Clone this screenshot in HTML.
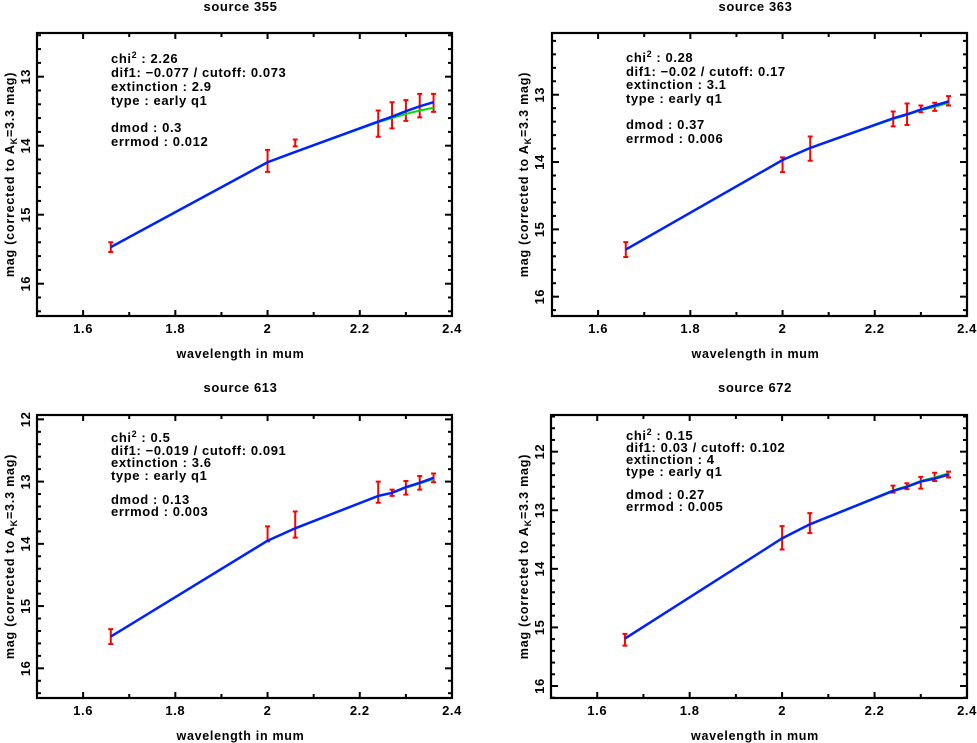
<!DOCTYPE html>
<html><head><meta charset="utf-8"><style>
html,body{margin:0;padding:0;background:#fff;}
svg{display:block;font-family:"Liberation Sans",sans-serif;font-weight:bold;}
</style></head><body>
<svg id="chart" width="977" height="743" viewBox="0 0 977 743" xmlns="http://www.w3.org/2000/svg"></svg>
<script>
const wavelengths = [1.66, 2.0, 2.06, 2.24, 2.27, 2.30, 2.33, 2.36];
const titles = ["source 355", "source 363", "source 613", "source 672"];
const obsMag355 = [15.47, 14.22, 13.96, 13.68, 13.56, 13.49, 13.42, 13.38];
const obsErr355 = [0.07, 0.16, 0.05, 0.19, 0.19, 0.15, 0.17, 0.13];
const blue355 = [15.47, 14.24, 14.09, 13.65, 13.58, 13.50, 13.43, 13.37];
const green355 = [15.47, 14.24, 14.09, 13.66, 13.60, 13.54, 13.49, 13.45];
const obsMag363 = [15.30, 14.04, 13.80, 13.36, 13.29, 13.21, 13.18, 13.09];
const obsErr363 = [0.11, 0.11, 0.18, 0.11, 0.16, 0.05, 0.06, 0.07];
const blue363 = [15.30, 13.97, 13.79, 13.35, 13.29, 13.22, 13.16, 13.10];
const green363 = [15.30, 13.97, 13.79, 13.36, 13.30, 13.23, 13.18, 13.12];
const obsMag613 = [15.49, 13.84, 13.69, 13.17, 13.18, 13.10, 13.02, 12.94];
const obsErr613 = [0.12, 0.12, 0.21, 0.17, 0.05, 0.11, 0.11, 0.07];
const blue613 = [15.49, 13.95, 13.75, 13.23, 13.18, 13.09, 13.02, 12.94];
const green613 = [15.49, 13.95, 13.75, 13.23, 13.18, 13.10, 13.03, 12.96];
const obsMag672 = [15.21, 13.47, 13.22, 12.64, 12.59, 12.53, 12.43, 12.39];
const obsErr672 = [0.10, 0.20, 0.17, 0.06, 0.05, 0.10, 0.07, 0.05];
const blue672 = [15.19, 13.48, 13.24, 12.67, 12.60, 12.51, 12.46, 12.39];
const green672 = [15.19, 13.48, 13.24, 12.66, 12.59, 12.50, 12.44, 12.37];
const infoLines355 = ["chi|2| : 2.26", "dif1: \u22120.077 / cutoff: 0.073", "extinction : 2.9", "type : early q1", "dmod : 0.3", "errmod : 0.012"];
const infoLines363 = ["chi|2| : 0.28", "dif1: \u22120.02 / cutoff: 0.17", "extinction : 3.1", "type : early q1", "dmod : 0.37", "errmod : 0.006"];
const infoLines613 = ["chi|2| : 0.5", "dif1: \u22120.019 / cutoff: 0.091", "extinction : 3.6", "type : early q1", "dmod : 0.13", "errmod : 0.003"];
const infoLines672 = ["chi|2| : 0.15", "dif1: 0.03 / cutoff: 0.102", "extinction : 4", "type : early q1", "dmod : 0.27", "errmod : 0.005"];
const xTicks = [1.6, 1.8, 2.0, 2.2, 2.4];
const xTickLabels = ["1.6", "1.8", "2", "2.2", "2.4"];

const panels = [
 {id:"355", x0:37, x1:452, y0:33, y1:316, mTop:12.367, mBot:16.468, yt:[13,14,15,16], ylx:25, ytx:9, ty:6, tx:111, lines:[58,72,86,100,127,141], obs:obsMag355, err:obsErr355, blue:blue355, green:green355, info:infoLines355, title:titles[0]},
 {id:"363", x0:552, x1:967, y0:33, y1:316, mTop:12.083, mBot:16.287, yt:[13,14,15,16], ylx:539, ytx:523, ty:6, tx:626, lines:[57,71,84,98,124,138], obs:obsMag363, err:obsErr363, blue:blue363, green:green363, info:infoLines363, title:titles[1]},
 {id:"613", x0:37, x1:452, y0:415, y1:698, mTop:11.93, mBot:16.477, yt:[12,13,14,15,16], ylx:25, ytx:9, ty:387, tx:111, lines:[437,450,462,475,499,511], obs:obsMag613, err:obsErr613, blue:blue613, green:green613, info:infoLines613, title:titles[2]},
 {id:"672", x0:551, x1:967, y0:415, y1:698, mTop:11.374, mBot:16.205, yt:[12,13,14,15,16], ylx:539, ytx:523, ty:387, tx:626, lines:[435,447,459,471,494,506], obs:obsMag672, err:obsErr672, blue:blue672, green:green672, info:infoLines672, title:titles[3]}
];
const NS = "http://www.w3.org/2000/svg";
const svg = document.getElementById("chart");
function mk(tag, attrs, parent){const e=document.createElementNS(NS,tag);for(const k in attrs)e.setAttribute(k,attrs[k]);(parent||svg).appendChild(e);return e;}

panels.forEach(p=>{
  const g = mk("g",{});
  
  
  const sx = v => p.x0 + (v-1.5)/(2.4-1.5)*(p.x1-p.x0);
  const sy = m => p.y0 + (m-p.mTop)/(p.mBot-p.mTop)*(p.y1-p.y0);
  const t = mk("text",{x:(p.x0+p.x1)/2-4,y:p.ty+5,"text-anchor":"middle","font-size":"13","letter-spacing":"0.6"},g);
  t.textContent = p.title;
  
  
  const fr = mk("rect",{x:p.x0,y:p.y0,width:p.x1-p.x0,height:p.y1-p.y0,fill:"none",stroke:"#000","stroke-width":"2.2"},g);
  
  
  for(let i=15;i<=24;i++){
    const v=i/10, X=sx(v), L=(i%2===0)?6:4;
    mk("line",{x1:X,y1:p.y1,x2:X,y2:p.y1-L,stroke:"#000","stroke-width":"2"},g);
    mk("line",{x1:X,y1:p.y0,x2:X,y2:p.y0+L,stroke:"#000","stroke-width":"2"},g);
  }
  xTicks.forEach((v,i)=>{
    const tl = mk("text",{x:sx(v),y:p.y1+17,"text-anchor":"middle","font-size":"13","letter-spacing":"0.6"},g);
    tl.textContent = xTickLabels[i];
    
    
  });
  for(let m=Math.ceil(p.mTop*5)/5; m<=p.mBot; m+=0.2){
    const mm=Math.round(m*5)/5, Y=sy(mm), major=Math.abs(mm-Math.round(mm))<0.01, L=major?7:4;
    mk("line",{x1:p.x0,y1:Y,x2:p.x0+L,y2:Y,stroke:"#000","stroke-width":"2"},g);
    mk("line",{x1:p.x1,y1:Y,x2:p.x1-L,y2:Y,stroke:"#000","stroke-width":"2"},g);
  }
  p.yt.forEach(v=>{
    const Y=sy(v);
    const tl = mk("text",{x:p.ylx+5,y:Y,"text-anchor":"middle","font-size":"13","letter-spacing":"0.6",transform:`rotate(-90 ${p.ylx+5} ${Y})`},g);
    tl.textContent = String(v);
    
    
  });
  const xt = mk("text",{x:(p.x0+p.x1)/2-4,y:p.y1+42,"text-anchor":"middle","font-size":"12.5","letter-spacing":"0.7"},g);
  xt.textContent = "wavelength in mum";
  
  
  const cy=(p.y0+p.y1)/2;
  const yt = mk("text",{x:p.ytx+5,y:cy,"text-anchor":"middle","font-size":"12.5","letter-spacing":"0.8",transform:`rotate(-90 ${p.ytx+5} ${cy})`},g);
  yt.innerHTML = 'mag (corrected to A<tspan font-size="9" dy="3">K</tspan><tspan dy="-3">=3.3 mag)</tspan>';
  
  
  p.info.forEach((s,i)=>{
    const tx = mk("text",{x:p.tx,y:p.lines[i]+5,"font-size":"13","letter-spacing":"0.6"},g);
    const parts = s.split("|");
    if(parts.length===3){
      tx.innerHTML = parts[0]+'<tspan font-size="9" dy="-5">'+parts[1]+'</tspan><tspan dy="5">'+parts[2]+'</tspan>';
    } else tx.textContent = s;
    
    
  });
  wavelengths.forEach((w,i)=>{
    const X=sx(w), Ya=sy(p.obs[i]-p.err[i]), Yb=sy(p.obs[i]+p.err[i]);
    const eb = mk("path",{d:`M${X},${Ya}V${Yb}M${X-2.5},${Ya}H${X+2.5}M${X-2.5},${Yb}H${X+2.5}`,stroke:"#ff0000","stroke-width":"2",fill:"none"},g);
    
    
  });
  const gp = mk("polyline",{points:wavelengths.map((w,i)=>sx(w)+","+sy(p.green[i])).join(" "),fill:"none",stroke:"#00dd00","stroke-width":"2"},g);
  
  
  const bp = mk("polyline",{points:wavelengths.map((w,i)=>sx(w)+","+sy(p.blue[i])).join(" "),fill:"none",stroke:"#0022ff","stroke-width":"2.5"},g);
  
  
});
</script>
</body></html>
